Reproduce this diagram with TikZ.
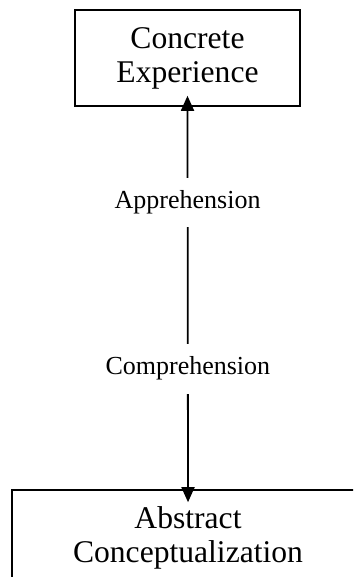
\documentclass[tikz,border=0pt]{standalone}
\usepackage{fontspec}
\setmainfont{Liberation Serif}
\usetikzlibrary{arrows.meta}
\begin{document}
\begin{tikzpicture}[x=1pt,y=1pt,
  stage/.style={draw=black, line width=1.6pt, align=center, inner sep=0pt,
    font=\fontsize{31.6}{34}\selectfont},
  mode/.style={fill=white, inner xsep=2pt, inner ysep=13pt,
    font=\fontsize{26}{30}\selectfont},
  link/.style={line width=1.8pt, {Triangle[length=15pt,width=13pt]}-{Triangle[length=15pt,width=13pt]}}]
  \useasboundingbox (0,0) rectangle (353,-577);
  \clip (0,0) rectangle (353,-577);
  % the two learning stages
  \node[stage, minimum width=225pt, minimum height=96pt] (ce) at (187.5,-58) {Concrete\\Experience};
  \node[stage, minimum width=352pt, minimum height=96pt] (ac) at (188,-538) {Abstract\\Conceptualization};
  % the axis joining them, broken by its two modes of knowing
  \draw[link, shorten <=-11pt, shorten >=-13pt] (ce.south) -- (ac.north)
    node[mode, pos=0.25] (ap) {Apprehension}
    node[mode, pos=0.685] (co) {Comprehension};
\end{tikzpicture}
\end{document}
